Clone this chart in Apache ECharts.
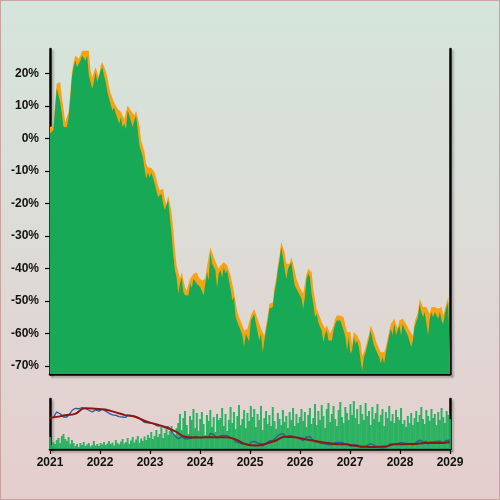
<!DOCTYPE html>
<html>
<head>
<meta charset="utf-8">
<script src="https://cdn.jsdelivr.net/npm/echarts@6/dist/echarts.min.js"></script>
<style>
  html, body { margin: 0; padding: 0; }
  #wrap { position: relative; width: 500px; height: 500px; }
  #chart { width: 500px; height: 500px; }
  #frame { position: absolute; left: 0; top: 0; width: 498px; height: 498px; border: 1px solid #c9a2a2; pointer-events: none; }
</style>
</head>
<body>
<div id="wrap">
  <div id="chart"></div>
  <div id="frame"></div>
</div>
<script>
// closing level, % change since start (one sample about every 12 days)
var closes = [
  1.5, 2.0, 2.5, 9.1, 15.4, 15.8, 11.2, 7.7, 3.5, 3.5,
  3.5, 6.6, 12.3, 18.9, 21.9, 24.0, 21.9, 23.0, 24.0, 25.5,
  25.5, 24.0, 25.5, 19.4, 17.3, 15.3, 17.3, 20.4, 17.3, 17.3,
  20.9, 21.9, 19.4, 17.3, 14.3, 12.2, 12.2, 8.6, 9.6, 7.6,
  7.0, 4.5, 6.6, 3.5, 4.5, 2.8, 8.6, 7.0, 6.6, 3.5,
  5.6, 7.0, 2.5, -2.2, -2.2, -5.7, -9.3, -12.4, -10.4, -12.0,
  -10.6, -12.0, -13.9, -16.0, -18.0, -17.5, -17.0, -20.1, -22.0, -22.2,
  -19.0, -24.2, -29.3, -35.5, -40.6, -42.7, -47.8, -44.7, -42.7, -47.3,
  -48.3, -48.3, -48.3, -44.7, -46.0, -43.2, -42.7, -44.7, -44.2, -45.7,
  -45.2, -48.3, -44.7, -41.1, -43.7, -35.0, -38.6, -38.0, -40.6, -46.0,
  -41.6, -40.6, -42.7, -39.6, -41.6, -40.6, -43.7, -46.2, -49.8, -48.8,
  -55.0, -56.5, -57.0, -59.1, -60.6, -64.2, -60.1, -60.1, -62.5, -56.0,
  -55.0, -54.0, -57.0, -57.5, -62.2, -60.1, -65.8, -62.2, -59.1, -56.0,
  -52.4, -52.4, -51.9, -47.3, -44.7, -40.6, -37.5, -33.4, -36.5, -40.1,
  -43.2, -40.1, -40.1, -38.0, -42.0, -45.2, -44.7, -47.3, -48.3, -49.3,
  -52.4, -48.8, -43.2, -41.6, -42.7, -47.8, -50.9, -55.0, -54.0, -56.5,
  -58.0, -59.1, -62.7, -60.1, -59.1, -62.2, -61.6, -62.2, -59.1, -57.0,
  -56.0, -56.5, -56.0, -56.5, -59.1, -61.1, -65.2, -61.1, -66.2, -65.2,
  -61.1, -63.2, -62.2, -64.2, -68.3, -71.4, -67.3, -65.8, -63.7, -61.6,
  -59.1, -61.6, -63.7, -63.7, -66.2, -67.3, -69.3, -67.3, -69.3, -65.8,
  -65.8, -60.6, -58.6, -60.6, -57.0, -60.6, -60.1, -57.5, -60.6, -57.0,
  -58.6, -59.1, -60.6, -61.1, -64.2, -62.2, -58.0, -56.5, -55.0, -50.9,
  -53.4, -55.0, -53.4, -53.9, -60.6, -55.5, -53.4, -55.0, -53.4, -53.9,
  -55.5, -53.4, -56.0, -57.0, -53.9, -51.9, -50.4, -50.9
];

// period high, same samples
var highs = [
  3.5, 3.5, 4.0, 10.6, 16.9, 17.5, 17.3, 12.7, 9.2, 5.0,
  5.0, 8.1, 13.8, 20.4, 23.4, 25.5, 25.5, 24.5, 25.5, 27.0,
  27.0, 27.0, 27.0, 27.0, 20.9, 18.8, 18.8, 21.9, 21.9, 18.8,
  22.4, 23.4, 23.4, 20.9, 18.8, 15.8, 13.7, 13.7, 11.1, 11.1,
  9.1, 8.5, 8.1, 8.1, 6.0, 6.0, 10.1, 10.1, 8.5, 8.1,
  7.1, 8.5, 8.5, 4.0, -0.7, -0.7, -4.2, -7.8, -8.9, -8.9,
  -9.1, -9.1, -10.5, -12.4, -14.5, -16.0, -15.5, -15.5, -18.6, -20.5,
  -17.5, -17.5, -22.7, -27.8, -34.0, -39.1, -41.2, -43.2, -41.2, -41.2,
  -45.8, -46.8, -46.8, -43.2, -43.2, -41.7, -41.2, -41.2, -42.7, -42.7,
  -43.7, -43.7, -43.2, -39.6, -39.6, -33.5, -33.5, -36.5, -36.5, -39.1,
  -40.1, -39.1, -39.1, -38.1, -38.1, -39.1, -39.1, -42.2, -44.7, -47.3,
  -47.3, -53.5, -55.0, -55.5, -57.6, -59.1, -58.6, -58.6, -58.6, -54.5,
  -53.5, -52.5, -52.5, -55.5, -56.0, -58.6, -58.6, -60.7, -57.6, -54.5,
  -50.9, -50.9, -50.4, -45.8, -43.2, -39.1, -36.0, -31.9, -31.9, -35.0,
  -38.6, -38.6, -38.6, -36.5, -36.5, -40.5, -43.2, -43.2, -45.8, -46.8,
  -47.8, -47.3, -41.7, -40.1, -40.1, -41.2, -46.3, -49.4, -52.5, -52.5,
  -55.0, -56.5, -57.6, -58.6, -57.6, -57.6, -60.1, -60.1, -57.6, -55.5,
  -54.5, -54.5, -54.5, -54.5, -55.0, -57.6, -59.6, -59.6, -59.6, -63.7,
  -59.6, -59.6, -60.7, -60.7, -62.7, -66.8, -65.8, -64.3, -62.2, -60.1,
  -57.6, -57.6, -60.1, -62.2, -62.2, -64.7, -65.8, -65.8, -65.8, -64.3,
  -64.3, -59.1, -57.1, -57.1, -55.5, -55.5, -58.6, -56.0, -56.0, -55.5,
  -55.5, -57.1, -57.6, -59.1, -59.6, -60.7, -56.5, -55.0, -53.5, -49.4,
  -49.4, -51.9, -51.9, -51.9, -52.4, -54.0, -51.9, -51.9, -51.9, -51.9,
  -52.4, -51.9, -51.9, -54.5, -52.4, -50.4, -48.9, -48.9
];

// traded volume, relative units
var volumes = [
  24, 8, 14, 10, 18, 22, 12, 26, 30, 20, 16, 24, 10, 18, 12,
  6, 10, 4, 12, 8, 14, 6, 9, 12, 5, 8, 16, 7, 10, 6, 12, 9, 14, 8, 11,
  16, 10, 13, 7, 18, 12, 9, 15, 20, 11, 14, 22, 10, 17, 24, 13, 19, 26, 12, 21, 16, 25,
  18, 28, 22, 34, 20, 26, 38, 24, 30, 44, 22, 32, 40, 28, 36, 46, 30, 26, 42,
  52, 70, 38, 62, 76, 48, 30, 66, 58, 80, 42, 72, 36, 60, 74, 50, 28, 68, 56, 78, 44, 64, 34, 70, 58,
  62, 82, 46, 70, 36, 58, 84, 52, 74, 40, 66, 88, 48, 60, 78, 42, 72, 56, 86,
  64, 80, 44, 70, 58, 86, 38, 62, 76, 50, 68, 46, 84, 56, 40, 72, 60, 48, 78, 54,
  66, 42, 74, 58, 82, 46, 70, 52, 64, 80,
  56, 74, 44, 68, 82, 50, 62, 90, 48, 76, 58, 88, 66, 42, 80, 92, 54, 70, 86, 60,
  46, 78, 94, 64, 52, 84, 72, 58, 90, 68,
  96, 62, 80, 50, 88, 70, 58, 92, 66, 76, 48, 84, 60, 72, 90, 54, 68, 80, 46, 74,
  62, 86, 56, 70, 52, 78, 64, 58, 82, 50,
  58, 44, 66, 52, 72, 48, 62, 76, 54, 68, 84, 60, 50, 78, 66, 56, 80, 62, 70, 48,
  74, 58, 82, 64, 52, 76, 68, 60
];

// slow average of the close (red line in lower panel)
var avgYears = [
  2021.0, 2021.2, 2021.3, 2021.5, 2021.7, 2021.9, 2022.1, 2022.3, 2022.5, 2022.7,
  2022.9, 2023.1, 2023.3, 2023.5, 2023.7, 2023.9, 2024.1, 2024.3, 2024.5, 2024.7,
  2024.9, 2025.1, 2025.3, 2025.5, 2025.7, 2025.9, 2026.1, 2026.3, 2026.5, 2026.7,
  2026.9, 2027.1, 2027.3, 2027.5, 2027.7, 2027.9, 2028.1, 2028.3, 2028.5, 2028.7,
  2029.0
];
var avgValues = [
  1.5, 5, 7.5, 11, 24, 23, 21, 15, 8, 4,
  -6, -13, -20, -30, -43, -45, -44.5, -44, -44, -49,
  -60, -64, -60, -53, -43, -44, -49, -53, -57, -60,
  -61, -64.5, -66.5, -67, -66, -61, -60.5, -60, -58, -58,
  -56
];

var yTicks = [-70, -60, -50, -40, -30, -20, -10, 0, 10, 20];

// sample dates as decimal years, evenly spread from start to end
var dates = closes.map(function (v, i) { return 2021 + i * 8 / (closes.length - 1); });

function pairs(xs, ys) {
  return ys.map(function (v, i) { return [xs[i], v]; });
}

var labelFont = {
  color: '#111',
  fontFamily: 'Liberation Sans, Arial, sans-serif',
  fontWeight: 'bold',
  fontSize: 12
};
var spine = {
  show: true, onZero: false,
  lineStyle: { color: '#000', width: 2.5, shadowColor: 'rgba(0,0,0,0.25)', shadowBlur: 2, shadowOffsetX: 2, shadowOffsetY: 2 }
};
var green = '#17a955';
var orange = '#f5a312';

var chart = echarts.init(document.getElementById('chart'), null, { renderer: 'canvas' });

var option = {
  animation: false,
  backgroundColor: {
    type: 'linear', x: 0, y: 0, x2: 0, y2: 1,
    colorStops: [
      { offset: 0, color: '#d4e5db' },
      { offset: 0.5, color: '#dddbd6' },
      { offset: 1, color: '#e5cdcd' }
    ]
  },
  grid: [
    { left: 50, right: 50, top: 49, height: 325 },
    { left: 50, right: 50, top: 399, height: 50 }
  ],
  xAxis: [
    {
      type: 'value', gridIndex: 0, min: 2021, max: 2029, interval: 1,
      axisLine: spine, axisTick: { show: false }, axisLabel: { show: false },
      splitLine: { show: false }
    },
    {
      type: 'value', gridIndex: 1, min: 2021, max: 2029, interval: 1,
      axisLine: spine,
      axisTick: { show: true, inside: false, length: 5, lineStyle: { color: '#000', width: 1.2 } },
      axisLabel: Object.assign({ margin: 8, formatter: function (v) { return String(v); } }, labelFont),
      splitLine: { show: false }
    }
  ],
  yAxis: [
    {
      type: 'value', gridIndex: 0, min: -72.5, max: 27.5, position: 'left',
      axisLine: spine,
      axisTick: { show: true, length: 5, customValues: yTicks, lineStyle: { color: '#000', width: 1.2 } },
      axisLabel: Object.assign({ margin: 11, customValues: yTicks, formatter: function (v) { return v + '%'; } }, labelFont),
      splitLine: { show: false }
    },
    {
      type: 'value', gridIndex: 0, min: -72.5, max: 27.5, position: 'right',
      axisLine: spine, axisTick: { show: false }, axisLabel: { show: false }, splitLine: { show: false }
    },
    {
      type: 'value', gridIndex: 1, min: 0, max: 100, position: 'left',
      axisLine: spine, axisTick: { show: false }, axisLabel: { show: false }, splitLine: { show: false }
    },
    {
      type: 'value', gridIndex: 1, min: -72, max: 46, position: 'right',
      axisLine: spine, axisTick: { show: false }, axisLabel: { show: false }, splitLine: { show: false }
    }
  ],
  series: [
    {
      name: 'High', type: 'line', xAxisIndex: 0, yAxisIndex: 0,
      data: pairs(dates, highs), showSymbol: false, symbol: 'none',
      lineStyle: { width: 0 },
      areaStyle: { color: orange, opacity: 1, origin: 'start' },
      z: 2
    },
    {
      name: 'Close', type: 'line', xAxisIndex: 0, yAxisIndex: 0,
      data: pairs(dates, closes), showSymbol: false, symbol: 'none',
      lineStyle: { width: 0 },
      areaStyle: { color: green, opacity: 1, origin: 'start' },
      z: 3
    },
    {
      name: 'Volume', type: 'bar', xAxisIndex: 1, yAxisIndex: 2,
      data: pairs(dates, volumes), barWidth: 2,
      itemStyle: { color: '#1aae58', opacity: 0.9 },
      z: 2
    },
    {
      name: 'Close line', type: 'line', xAxisIndex: 1, yAxisIndex: 3,
      data: pairs(dates, closes), showSymbol: false, symbol: 'none',
      lineStyle: { color: '#2c5a9a', width: 1.3 },
      z: 3
    },
    {
      name: 'Average', type: 'line', xAxisIndex: 1, yAxisIndex: 3,
      data: pairs(avgYears, avgValues), showSymbol: false, symbol: 'none', smooth: true,
      lineStyle: { color: '#8c1712', width: 2 },
      z: 4
    }
  ]
};

chart.setOption(option);
</script>
</body>
</html>
